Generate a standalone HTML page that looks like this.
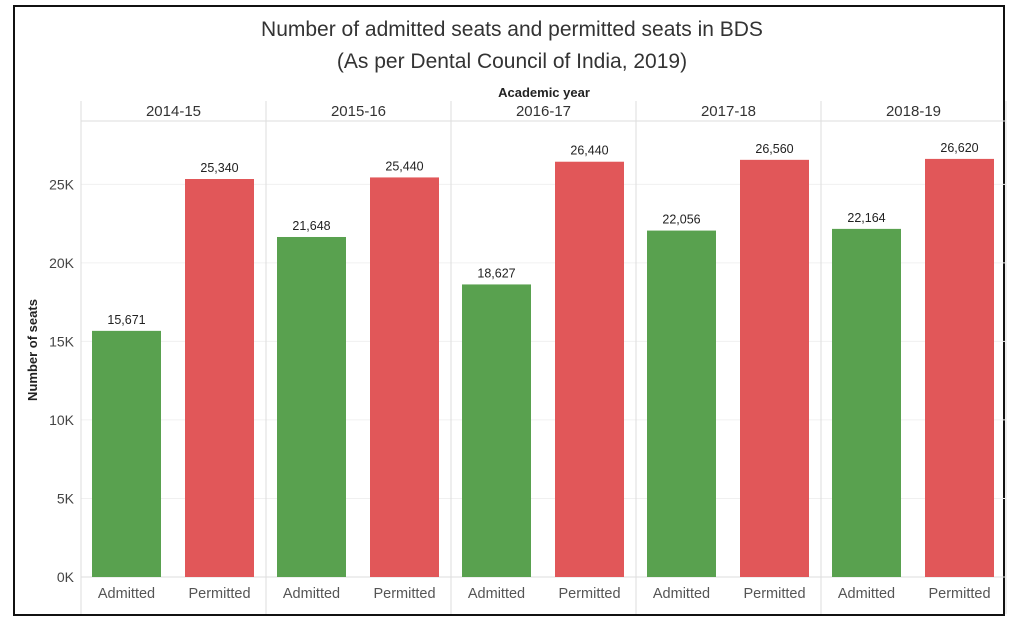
<!DOCTYPE html>
<html><head><meta charset="utf-8"><style>
html,body{margin:0;padding:0;background:#fff;}
body{width:1024px;height:631px;overflow:hidden;font-family:"Liberation Sans","DejaVu Sans",sans-serif;}
#frame{position:absolute;left:13px;top:5px;width:992px;height:611px;border:2px solid #111;box-sizing:border-box;}
</style></head><body>
<div id="frame"></div>
<svg id="chart" width="1024" height="631" style="position:absolute;left:0;top:0">
<text x="512" y="36" text-anchor="middle" font-size="21" fill="#333">Number of admitted seats and permitted seats in BDS</text>
<text x="512" y="68" text-anchor="middle" font-size="21" fill="#333">(As per Dental Council of India, 2019)</text>
<text x="544" y="97" text-anchor="middle" font-size="13" font-weight="bold" fill="#222">Academic year</text>
<text x="37" y="350" text-anchor="middle" font-size="13" font-weight="bold" fill="#222" transform="rotate(-90 37 350)">Number of seats</text>
<g id="grid"></g><g id="bars"></g><g id="labels"></g>
</svg>
<script>
const years=["2014-15","2015-16","2016-17","2017-18","2018-19"];
const admitted=[15671,21648,18627,22056,22164];
const permitted=[25340,25440,26440,26560,26620];
const yTicks=[0,5000,10000,15000,20000,25000];
const yTickLabels=["0K","5K","10K","15K","20K","25K"];
const NS="http://www.w3.org/2000/svg";
const x0=81,panelW=185,base=577,pxPer=398/25340;
function y(v){return base-v*pxPer;}
function mk(tag,attrs,parent){const e=document.createElementNS(NS,tag);for(const k in attrs)e.setAttribute(k,attrs[k]);parent.appendChild(e);return e;}
const grid=document.getElementById('grid'),bars=document.getElementById('bars'),labels=document.getElementById('labels');
const xEnd=x0+panelW*years.length;
yTicks.forEach((t,i)=>{
 const g=mk('line',{x1:x0,x2:xEnd,y1:y(t),y2:y(t),stroke:t===0?'#ddd':'#f0f0f0','stroke-width':1},grid);
 
 
 const l=mk('text',{x:74,y:y(t)+5,'text-anchor':'end','font-size':14,fill:'#444'},labels);
 l.textContent=yTickLabels[i];
 
 
});
mk('line',{x1:x0,x2:xEnd,y1:121,y2:121,stroke:'#ddd'},grid);
for(let i=0;i<=years.length;i++){
 const px=x0+panelW*i;
 const ln=mk('line',{x1:px,x2:px,y1:101,y2:614,stroke:'#ddd'},grid);
 
 
}
years.forEach((yr,i)=>{
 const px=x0+panelW*i;
 const h=mk('text',{x:px+panelW/2,y:116,'text-anchor':'middle','font-size':15,fill:'#333'},labels);
 h.textContent=yr;
 
 
 [[admitted[i],11,'#59a14f','Admitted'],[permitted[i],104,'#e15759','Permitted']].forEach(([v,off,col,cat])=>{
  const r=mk('rect',{x:px+off,y:y(v),width:69,height:base-y(v),fill:col},bars);
  
  
  const vl=mk('text',{x:px+off+34.5,y:y(v)-7,'text-anchor':'middle','font-size':12.5,fill:'#222'},labels);
  vl.textContent=v.toLocaleString('en-US');
  
  
  const cl=mk('text',{x:px+off+34.5,y:598,'text-anchor':'middle','font-size':14.5,fill:'#555'},labels);
  cl.textContent=cat;
  
  
 });
});
</script>
</body></html>
